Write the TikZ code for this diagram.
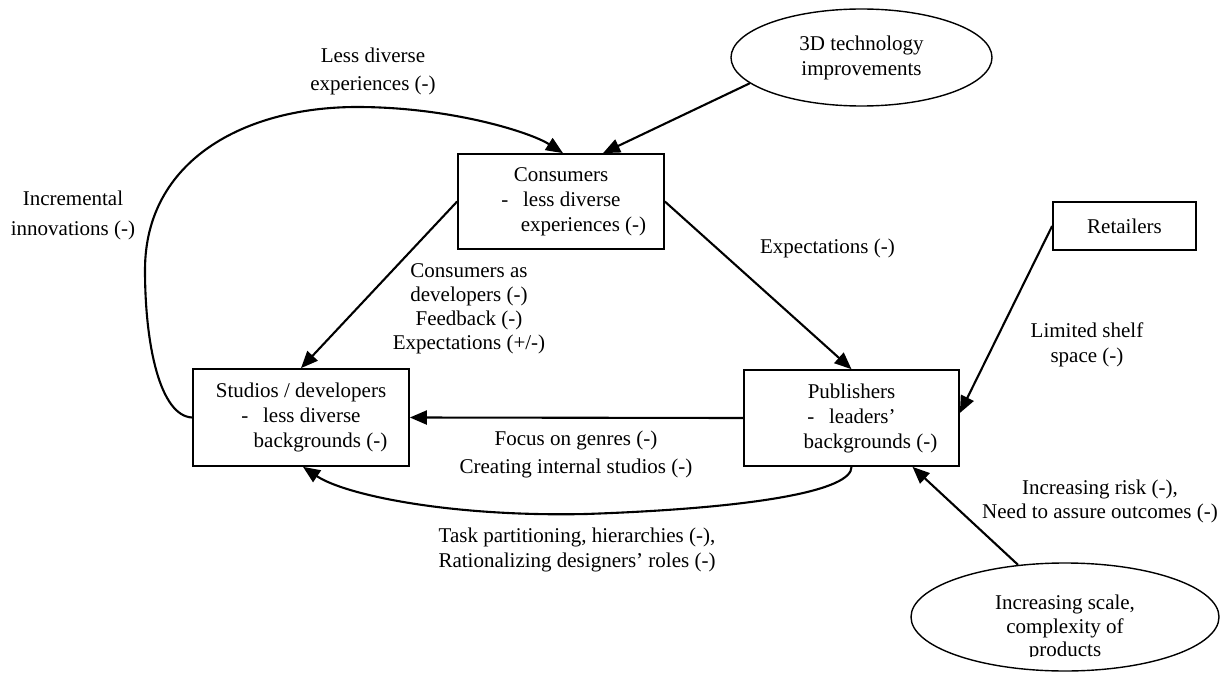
\documentclass[tikz,border=0pt]{standalone}
\usepackage{fontspec}
\setmainfont{Liberation Serif}
\usetikzlibrary{arrows.meta,shapes.geometric}

\tikzset{
  every node/.style={font=\fontsize{21}{25}\selectfont, align=center, inner sep=0pt},
  actor/.style={draw, line width=1.7pt, rectangle},
  driver/.style={draw, line width=1.4pt, ellipse},
  arr/.style={line width=2.1pt, -{Triangle[length=17pt,width=14pt]}},
  lbl/.style={},
}

\begin{document}
\begin{tikzpicture}[x=1pt,y=-1pt]
  \useasboundingbox (0,0) rectangle (1229,679);

  % actors
  \node[actor, minimum width=206pt, minimum height=95pt] (consumers) at (561,201.5)
    {Consumers\\-\hspace{0.7em}less diverse\\\hspace*{45pt}experiences (-)};
  \node[actor, minimum width=216pt, minimum height=97pt] (studios) at (301,417.5)
    {Studios / developers\\-\hspace{0.7em}less diverse\\\hspace*{39pt}backgrounds (-)};
  \node[actor, minimum width=215pt, minimum height=96pt] (publishers) at (851.5,418)
    {Publishers\\-\hspace{0.7em}leaders’\\\hspace*{38pt}backgrounds (-)};
  \node[actor, minimum width=143pt, minimum height=48pt] (retailers) at (1124.5,226)
    {Retailers};

  % external drivers
  \node[driver, minimum width=261pt, minimum height=97pt] (tech) at (861.5,57.5)
    {3D technology\\improvements};
  \node[driver, minimum width=308pt, minimum height=108pt] (scale) at (1065,617) {};
  \begin{scope}
    % the last line of this text is cut off at its baseline
    \clip (900,540) rectangle (1229,656);
    \node[font=\fontsize{21}{23.5}\selectfont] (scaletext) at (1065,628)
      {Increasing scale,\\complexity of\\products};
  \end{scope}

  % influences
  \draw[arr] (tech.193) -- ([xshift=42pt]consumers.north);
  \draw[arr] (studios.west) .. controls (160,416) and (145,345) .. (145,270)
    .. controls (145,160) and (245,107) .. (357,107)
    .. controls (450,107) and (530,132) .. ([xshift=2pt]consumers.north);
  \draw[arr] (consumers.west) -- (studios.north);
  \draw[arr] (consumers.east) -- (publishers.north);
  \draw[arr] (retailers.west) -- ([yshift=5pt]publishers.east);
  \draw[arr] (publishers.west) -- (studios.east);
  \draw[arr] (publishers.south) .. controls (852,490) and (760,508) .. (586,514)
    .. controls (450,517) and (345,495) .. ([xshift=2pt]studios.south);
  \draw[arr] (scale.132) -- ([xshift=61pt]publishers.south);

  % influence labels
  \node[lbl, font=\fontsize{21}{28}\selectfont] (l1) at (373,71) {Less diverse\\experiences (-)};
  \node[lbl, font=\fontsize{21}{30}\selectfont] (l2) at (73,215) {Incremental\\innovations (-)};
  \node[lbl, font=\fontsize{21}{24}\selectfont] (l3) at (469,309)
    {Consumers as\\developers (-)\\Feedback (-)\\Expectations (+/-)};
  \node[lbl] (l4) at (827.5,248) {Expectations (-)};
  \node[lbl] (l5) at (1087,344.5) {Limited shelf\\space (-)};
  \node[lbl, font=\fontsize{21}{28}\selectfont] (l6) at (576,454)
    {Focus on genres (-)\\Creating internal studios (-)};
  \node[lbl] (l7) at (577,549.5)
    {Task partitioning, hierarchies (-),\\Rationalizing designers’ roles (-)};
  \node[lbl, font=\fontsize{21}{24}\selectfont] (l8) at (1100,501)
    {Increasing risk (-),\\Need to assure outcomes (-)};
\end{tikzpicture}
\end{document}
